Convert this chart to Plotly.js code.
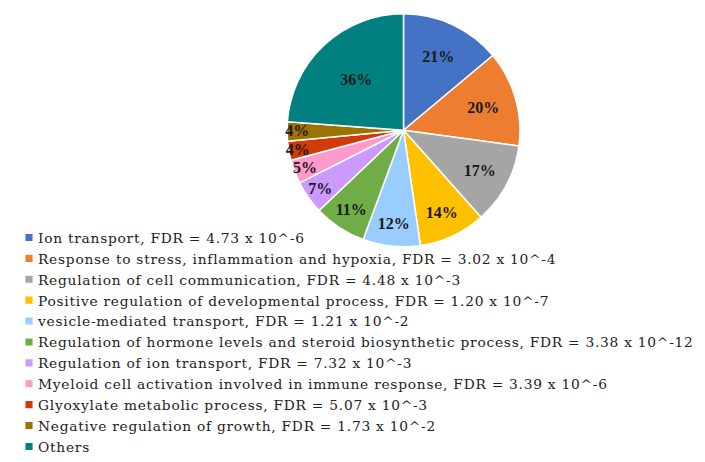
<!DOCTYPE html>
<html>
<head>
<meta charset="utf-8">
<script src="https://cdn.plot.ly/plotly-3.0.1.min.js"></script>
<style>
html,body{margin:0;padding:0;background:#fff;}
#chart{width:705px;height:462px;}
.legendtext{letter-spacing:0.75px;}
#chart .legendtext{transform:translate(-2px,0px);}
#chart path.legendpie{transform:translate(29px,0px) scale(0.68);}
</style>
</head>
<body>
<div id="chart"></div>
<script>
const categories = [
  "Ion transport, FDR = 4.73 x 10^-6",
  "Response to stress, inflammation and hypoxia, FDR = 3.02 x 10^-4",
  "Regulation of cell communication, FDR = 4.48 x 10^-3",
  "Positive regulation of developmental process, FDR = 1.20 x 10^-7",
  "vesicle-mediated transport, FDR = 1.21 x 10^-2",
  "Regulation of hormone levels and steroid biosynthetic process, FDR = 3.38 x 10^-12",
  "Regulation of ion transport, FDR = 7.32 x 10^-3",
  "Myeloid cell activation involved in immune response, FDR = 3.39 x 10^-6",
  "Glyoxylate metabolic process, FDR = 5.07 x 10^-3",
  "Negative regulation of growth, FDR = 1.73 x 10^-2",
  "Others"
];
const percents = [21, 20, 17, 14, 12, 11, 7, 5, 4, 4, 36];
const colors = ["#4472C4", "#ED7D31", "#A5A5A5", "#FFC000", "#99CCFF", "#70AD47",
                "#CC99FF", "#FF99CC", "#D23A0A", "#9C7200", "#008080"];

const W = 705, H = 462;
const cx = 403.5, cy = 132, R = 118;

const trace = {
  type: "pie",
  labels: categories,
  values: percents,
  text: percents.map(p => p + "%"),
  textinfo: "text",
  textposition: "inside",
  insidetextorientation: "horizontal",
  sort: false,
  direction: "clockwise",
  rotation: 0,
  marker: {colors: colors, line: {color: "#ffffff", width: 1.5}},
  textfont: {family: "Liberation Serif, serif", size: 16, color: "#1a1a1a", weight: "bold"},
  hoverinfo: "label+text",
  domain: {x: [(cx - R) / W, (cx + R) / W], y: [1 - (cy + R) / H, 1 - (cy - R) / H]}
};

const layout = {
  width: W, height: H,
  margin: {l: 0, r: 0, t: 0, b: 0},
  paper_bgcolor: "#ffffff",
  showlegend: true,
  uniformtext: {mode: "show", minsize: 16},
  legend: {
    x: 0, xanchor: "left", y: 1 - 225 / H, yanchor: "top",
    font: {family: "DejaVu Serif, serif", size: 13.77, color: "#222"},
    bgcolor: "rgba(0,0,0,0)", tracegroupgap: 0
  }
};

Plotly.newPlot("chart", [trace], layout, {displayModeBar: false, staticPlot: true});
</script>
</body>
</html>
